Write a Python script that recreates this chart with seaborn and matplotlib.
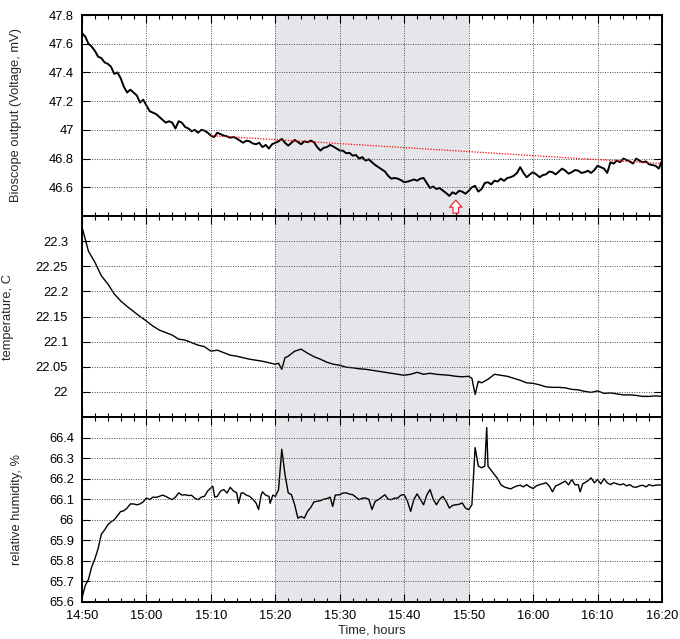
import numpy as np
import pandas as pd
import matplotlib
matplotlib.use("Agg")
import matplotlib.pyplot as plt
from matplotlib.ticker import MultipleLocator, FuncFormatter, FixedLocator
import seaborn as sns

# ---------------- data (minutes after 14:50) ----------------
volt_t = [i * 0.5 for i in range(181)]
volt_v = [47.674, 47.65, 47.60, 47.58, 47.55, 47.51, 47.50, 47.47, 47.46, 47.44,
          47.39, 47.40, 47.36, 47.30, 47.26, 47.28, 47.26, 47.24, 47.19, 47.21,
          47.17, 47.13, 47.12, 47.11, 47.09, 47.07, 47.05, 47.06, 47.05, 47.01,
          47.06, 47.05, 47.02, 47.01, 46.99, 47.00, 46.98, 47.00, 46.995, 46.98,
          46.96, 46.95, 46.98, 46.97, 46.96, 46.955, 46.945, 46.95, 46.94, 46.925,
          46.91, 46.925, 46.92, 46.905, 46.90, 46.91, 46.88, 46.895, 46.87, 46.90,
          46.91, 46.92, 46.937, 46.91, 46.89, 46.91, 46.93, 46.915, 46.90, 46.92,
          46.914, 46.925, 46.914, 46.88, 46.856, 46.875, 46.88, 46.895, 46.884, 46.87,
          46.856, 46.855, 46.837, 46.84, 46.82, 46.825, 46.80, 46.81, 46.786, 46.795,
          46.774, 46.755, 46.74, 46.725, 46.71, 46.68, 46.66, 46.665, 46.66, 46.65,
          46.635, 46.64, 46.646, 46.655, 46.646, 46.66, 46.665, 46.63, 46.595, 46.605,
          46.588, 46.595, 46.577, 46.56, 46.54, 46.565, 46.553, 46.575, 46.57, 46.555,
          46.575, 46.60, 46.61, 46.57, 46.588, 46.63, 46.635, 46.62, 46.646, 46.64,
          46.66, 46.645, 46.665, 46.67, 46.68, 46.70, 46.74, 46.70, 46.67, 46.69,
          46.705, 46.69, 46.67, 46.685, 46.69, 46.71, 46.705, 46.69, 46.71, 46.73,
          46.716, 46.695, 46.705, 46.72, 46.716, 46.70, 46.705, 46.715, 46.70, 46.72,
          46.75, 46.74, 46.73, 46.70, 46.774, 46.765, 46.786, 46.775, 46.80, 46.79,
          46.78, 46.765, 46.80, 46.785, 46.774, 46.78, 46.76, 46.755, 46.75, 46.73,
          46.786]

base_t = [20, 90]
base_v = [46.96, 46.765]
arrow_t = 58
arrow_v = [46.42, 46.51]

temp_t = [0, 1, 2, 3, 4, 5, 6, 7, 8, 9, 10, 11, 12, 13, 14, 15, 16, 17, 18, 19,
          20, 21, 22, 23, 24, 25, 26, 27, 28, 29, 30, 30.5, 31, 31.5, 32, 33, 34,
          35, 36, 37, 38, 39, 40, 41, 42, 43, 44, 45, 46, 47, 48, 49, 50, 51, 52,
          53, 54, 55, 56, 57, 58, 59, 60, 60.5, 61, 61.5, 62, 63, 64, 65, 66, 67,
          68, 69, 70, 71, 72, 73, 74, 75, 76, 77, 78, 79, 80, 81, 82, 83, 84, 85,
          86, 87, 88, 89, 90]
temp_v = [22.328, 22.28, 22.258, 22.231, 22.215, 22.195, 22.181, 22.17, 22.16, 22.15,
          22.141, 22.131, 22.123, 22.118, 22.113, 22.105, 22.103, 22.098, 22.093, 22.09,
          22.081, 22.083, 22.078, 22.073, 22.071, 22.068, 22.065, 22.063, 22.061, 22.058,
          22.055, 22.057, 22.045, 22.068, 22.071, 22.081, 22.085,
          22.077, 22.07, 22.065, 22.059, 22.055, 22.053, 22.049, 22.048, 22.046, 22.045,
          22.043, 22.041, 22.039, 22.037, 22.035, 22.033, 22.035, 22.039,
          22.035, 22.037, 22.035, 22.034, 22.033, 22.031, 22.03, 22.031, 22.027, 21.995,
          22.021, 22.018, 22.025, 22.035, 22.033, 22.031, 22.027,
          22.023, 22.018, 22.017, 22.014, 22.01, 22.009, 22.009, 22.008, 22.005, 22.004,
          22.001, 21.999, 22.002, 21.997, 21.998, 21.996, 21.994, 21.994,
          21.993, 21.991, 21.991, 21.992, 21.991]

hum_t = [0, 0.5, 1, 1.5, 2, 2.5, 3, 3.5, 4, 4.5, 5, 5.5, 6, 6.5, 7, 7.5, 8, 8.5, 9, 9.5,
         10, 10.5, 11, 11.5, 12, 12.5, 13, 13.5, 14, 14.5, 15, 15.5, 16, 16.5, 17, 17.5,
         18, 18.5, 19, 19.5, 20, 20.3, 20.6, 21, 21.5, 22, 22.5, 23, 23.5, 24, 24.3, 24.7,
         25, 25.5, 26, 26.5, 27, 27.4, 27.8, 28, 28.5, 29, 29.2, 29.6, 30, 30.5, 31, 31.5,
         32, 32.5, 33, 33.5, 34, 34.5, 35, 35.5, 36, 36.5, 37, 37.5, 38, 38.5, 38.9, 39.3,
         40, 40.5, 41, 41.5, 42, 42.5, 43, 43.5, 44, 44.5, 45, 45.5, 46, 46.5, 47, 47.5,
         48, 48.5, 49, 49.5, 50, 50.5, 51, 51.5, 52, 52.5, 53, 53.5, 54, 54.5, 55, 55.5,
         56, 56.5, 57, 57.5, 58, 58.5, 59, 59.5, 60, 60.5, 61, 61.5, 62, 62.5, 62.8, 63,
         63.5, 64, 64.5, 65, 65.5, 66, 66.5, 67, 67.5, 68, 68.5, 69, 69.5, 70, 70.5, 71,
         71.5, 72, 72.5, 73, 73.5, 74, 74.5, 75, 75.5, 76, 76.5, 77, 77.3, 77.7, 78, 78.5,
         79, 79.5, 80, 80.5, 81, 81.5, 82, 82.5, 83, 83.5, 84, 84.5, 85, 85.5, 86, 86.5,
         87, 87.5, 88, 88.5, 89, 89.5, 90]
hum_v = [65.62, 65.68, 65.71, 65.77, 65.81, 65.86, 65.93, 65.95, 65.975, 65.99,
         66.0, 66.02, 66.04, 66.044, 66.057, 66.077, 66.077, 66.073, 66.077, 66.087,
         66.106, 66.098, 66.11, 66.109, 66.114, 66.12, 66.114, 66.105, 66.098, 66.11,
         66.131, 66.12, 66.122, 66.118, 66.119, 66.105, 66.098, 66.11, 66.114, 66.14,
         66.155, 66.163, 66.11, 66.114, 66.14, 66.147, 66.13, 66.158, 66.14, 66.131,
         66.08, 66.13, 66.131, 66.12, 66.114, 66.10, 66.082, 66.05, 66.12, 66.136,
         66.12, 66.114, 66.08, 66.12, 66.114, 66.147, 66.343, 66.22, 66.131, 66.122,
         66.073, 66.008, 66.016, 66.008, 66.041, 66.06, 66.087, 66.09, 66.093, 66.10,
         66.103, 66.11, 66.065, 66.12, 66.122, 66.13, 66.131, 66.125, 66.122, 66.11,
         66.098, 66.105, 66.106, 66.10, 66.05, 66.09, 66.098, 66.11, 66.122, 66.10,
         66.098, 66.105, 66.106, 66.12, 66.122, 66.09, 66.041, 66.10, 66.126, 66.10,
         66.073, 66.12, 66.147, 66.10, 66.073, 66.10, 66.114, 66.09, 66.057, 66.07,
         66.073, 66.075, 66.082, 66.057, 66.049, 66.073, 66.351, 66.261, 66.253, 66.261,
         66.449, 66.261, 66.24, 66.22, 66.20, 66.171, 66.16, 66.155, 66.15, 66.158,
         66.165, 66.168, 66.16, 66.171, 66.16, 66.152, 66.165, 66.171, 66.175, 66.18,
         66.165, 66.136, 66.165, 66.171, 66.18, 66.188, 66.17, 66.196, 66.17, 66.171,
         66.136, 66.175, 66.18, 66.19, 66.204, 66.18, 66.196, 66.175, 66.20, 66.18,
         66.171, 66.18, 66.175, 66.17, 66.175, 66.165, 66.171, 66.16, 66.158, 66.165,
         66.168, 66.16, 66.171, 66.165, 66.168, 66.17, 66.168]

shade_span = [30, 60]
x_ticks = [0, 10, 20, 30, 40, 50, 60, 70, 80, 90]
x_ticklabels = ["14:50", "15:00", "15:10", "15:20", "15:30", "15:40", "15:50",
                "16:00", "16:10", "16:20"]

# ---------------- styling ----------------
sns.set_theme(style="ticks")
plt.rcParams["font.family"] = ["Liberation Sans", "DejaVu Sans"]
FS = 9.3
plt.rcParams["font.size"] = FS

fig = plt.figure(figsize=(6.8, 6.39), dpi=100)
left, width = 82 / 680, 580 / 680
ax1 = fig.add_axes([left, 1 - 216 / 639, width, 201 / 639])
ax2 = fig.add_axes([left, 1 - 417 / 639, width, 201 / 639])
ax3 = fig.add_axes([left, 1 - 602 / 639, width, 185 / 639])

df_v = pd.DataFrame({"t": volt_t, "v": volt_v})
df_T = pd.DataFrame({"t": temp_t, "v": temp_v})
df_h = pd.DataFrame({"t": hum_t, "v": hum_v})

def style(ax, ylim, yticks, ylabel, ypad, label_x):
    ax.axvspan(shade_span[0], shade_span[1], color="#e5e6e9", zorder=0, lw=0)
    ax.set_xlim(0, 90)
    ax.set_ylim(*ylim)
    ax.xaxis.set_major_locator(FixedLocator(x_ticks))
    ax.xaxis.set_minor_locator(MultipleLocator(2))
    ax.yaxis.set_major_locator(FixedLocator(yticks))
    ax.yaxis.set_major_formatter(FuncFormatter(lambda v, p: "%g" % round(v, 4)))
    ax.tick_params(axis="both", which="both", direction="in", top=True, right=True,
                   colors="black", labelsize=FS)
    ax.tick_params(axis="y", pad=ypad)
    ax.tick_params(axis="x", pad=5.5)
    ax.tick_params(which="major", length=5.5, width=0.8)
    ax.tick_params(which="minor", length=3, width=0.8)
    ax.grid(True, which="major", linestyle=(0, (1, 1.5)), color="#4a4a4a", lw=0.7)
    ax.set_axisbelow(False)
    for s in ax.spines.values():
        s.set_linewidth(1.4)
        s.set_color("black")
        s.set_zorder(5)
    ax.set_ylabel(ylabel, fontsize=FS)
    ax.yaxis.set_label_coords((label_x - 82) / 580, 0.5)
    ax.set_xlabel("")

sns.lineplot(data=df_v, x="t", y="v", ax=ax1, color="black", lw=1.4, estimator=None)
sns.lineplot(x=base_t, y=base_v, ax=ax1, color="red", lw=0.9, linestyle=(0, (1, 1.2)),
             estimator=None, zorder=3)
ax1.annotate("", xy=(arrow_t, arrow_v[1]), xytext=(arrow_t, arrow_v[0]),
             arrowprops=dict(arrowstyle="simple,head_width=0.9,head_length=0.5,tail_width=0.4",
                             fc="white", ec="#e0303a", lw=0.9, shrinkA=0, shrinkB=0,
                             mutation_scale=10), zorder=6)
style(ax1, (46.4, 47.8), [46.6, 46.8, 47.0, 47.2, 47.4, 47.6, 47.8],
      "Bioscope output (Voltage, mV)", 5.8, 22)
ax1.set_xticklabels([])

sns.lineplot(data=df_T, x="t", y="v", ax=ax2, color="black", lw=1.0, estimator=None)
style(ax2, (21.95, 22.35), [22.0, 22.05, 22.1, 22.15, 22.2, 22.25, 22.3],
      "temperature, C", 10, 14)
ax2.set_xticklabels([])

sns.lineplot(data=df_h, x="t", y="v", ax=ax3, color="black", lw=1.0, estimator=None)
style(ax3, (65.6, 66.5), [65.6, 65.7, 65.8, 65.9, 66.0, 66.1, 66.2, 66.3, 66.4],
      "relative humidity, %", 5.8, 23)
ax3.set_xticklabels(x_ticklabels)
ax3.set_xlabel("Time, hours", fontsize=FS, labelpad=2)

fig.savefig("out.png", dpi=100)
